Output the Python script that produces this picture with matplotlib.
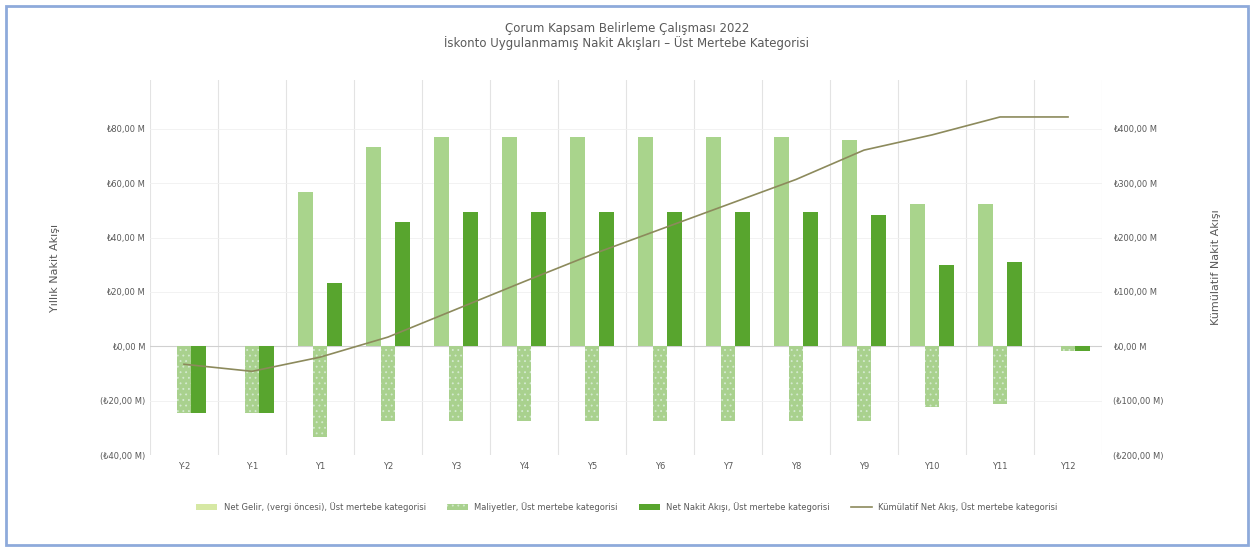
import matplotlib.pyplot as plt
import numpy as np
from matplotlib.patches import Rectangle, Patch
from matplotlib.lines import Line2D

# values (millions)
years = ["Y-2", "Y-1", "Y1", "Y2", "Y3", "Y4", "Y5", "Y6", "Y7", "Y8", "Y9", "Y10", "Y11", "Y12"]
revenue = [0, 0, 56.8, 73.4, 77, 77, 77, 77, 77, 77, 76, 52.2, 52.2, 0]
costs = [-24.6, -24.6, -33.4, -27.6, -27.6, -27.6, -27.6, -27.6, -27.6, -27.6, -27.6, -22.4, -21.2, -1.8]
net_flow = [-24.6, -24.6, 23.4, 45.8, 49.4, 49.4, 49.4, 49.4, 49.4, 49.4, 48.4, 29.8, 31.0, -1.8]
cumulative = [-33, -46, -20, 17, 68, 119, 169, 215, 261, 307, 361, 389, 422, 422]

left_ticks = [-40, -20, 0, 20, 40, 60, 80]
right_ticks = [-200, -100, 0, 100, 200, 300, 400]

title = "Çorum Kapsam Belirleme Çalışması 2022\nİskonto Uygulanmamış Nakit Akışları – Üst Mertebe Kategorisi"

c_rev = "#a9d48c"
c_cost = "#a9d18e"
c_net = "#58a52e"
c_line = "#8c8a5c"
c_text = "#595959"
c_neg = "#b03a36"

plt.rcParams["hatch.linewidth"] = 0.6


def money(v):
    s = f"₺{abs(v):.2f} M".replace(".", ",")
    return f"({s})" if v < 0 else s


fig = plt.figure(figsize=(12.54, 5.51), dpi=100)
fig.patches.append(Rectangle((0.005, 0.01), 0.99, 0.98, transform=fig.transFigure,
                             fill=False, edgecolor="#8eaadb", linewidth=2))

ax = fig.add_axes([0.1196, 0.1742, 0.7592, 0.6806])
x = np.arange(len(years))
w = 0.215

ax.bar(x - w, revenue, w, color=c_rev, zorder=3)
ax.bar(x, costs, w, color=c_cost, hatch="...", edgecolor="#d4ead0", linewidth=0, zorder=3)
ax.bar(x + w, net_flow, w, color=c_net, zorder=3)

ax.set_xlim(-0.5, len(years) - 0.5)
ax.set_ylim(-40, 98)
ax.set_yticks(left_ticks)
ax.set_yticklabels([money(v) for v in left_ticks])
for lab, v in zip(ax.get_yticklabels(), left_ticks):
    lab.set_color(c_neg if v < 0 else c_text)
ax.set_xticks(x)
ax.set_xticklabels(years)
ax.tick_params(axis="both", labelsize=6, colors=c_text, length=0)
ax.tick_params(axis="x", pad=5)
ax.set_xticks(np.arange(len(years) + 1) - 0.5, minor=True)
ax.grid(True, which="minor", axis="x", color="#e3e3e3", linewidth=0.8)
ax.grid(True, which="major", axis="y", color="#f0f0f0", linewidth=0.6)
ax.tick_params(which="minor", length=0)
ax.axhline(0, color="#d0d0d0", linewidth=0.8, zorder=2)
for s in ax.spines.values():
    s.set_visible(False)
ax.set_ylabel("Yıllık Nakit Akışı", fontsize=8, color=c_text, labelpad=29)

ax2 = ax.twinx()
ax2.plot(x, cumulative, color=c_line, linewidth=1.2, zorder=4)
ax2.set_ylim(-200, 490)
ax2.set_yticks(right_ticks)
ax2.set_yticklabels([money(v) for v in right_ticks])
for lab, v in zip(ax2.get_yticklabels(), right_ticks):
    lab.set_color(c_neg if v < 0 else c_text)
ax2.tick_params(axis="y", labelsize=6, colors=c_text, length=0, pad=8)
for s in ax2.spines.values():
    s.set_visible(False)
ax2.set_ylabel("Kümülatif Nakit Akışı", fontsize=8, color=c_text, rotation=90, labelpad=34)

fig.text(0.5, 0.934, title, ha="center", va="center", fontsize=8.5, color=c_text, linespacing=1.1)

handles = [
    Patch(facecolor="#d6e8a4", label="Net Gelir, (vergi öncesi), Üst mertebe kategorisi"),
    Patch(facecolor=c_cost, hatch="...", edgecolor="#d4ead0", linewidth=0, label="Maliyetler, Üst mertebe kategorisi"),
    Patch(facecolor=c_net, label="Net Nakit Akışı, Üst mertebe kategorisi"),
    Line2D([], [], color=c_line, linewidth=1.2, label="Kümülatif Net Akış, Üst mertebe kategorisi"),
]
fig.legend(handles=handles, loc="center", bbox_to_anchor=(0.5, 0.08), ncol=4, frameon=False,
           fontsize=6, labelcolor=c_text, handlelength=2.5, handleheight=0.6, columnspacing=2.5)

fig.savefig("out.png", dpi=100)
